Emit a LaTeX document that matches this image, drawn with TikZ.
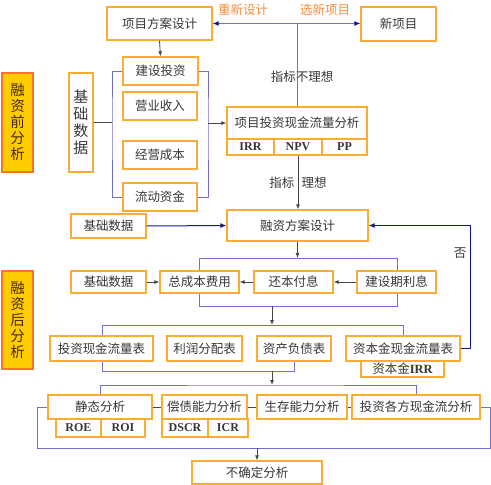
\documentclass[tikz,border=0pt]{standalone}
\usepackage{fontspec}
\setmainfont{Noto Sans CJK SC}
\newfontfamily\latinbf{Liberation Serif}
\usetikzlibrary{calc,backgrounds,arrows.meta}
\definecolor{bordorange}{RGB}{250,172,52}
\definecolor{texte}{RGB}{55,55,55}
\definecolor{jaune}{RGB}{255,204,0}
\definecolor{bordphase}{RGB}{255,112,40}
\definecolor{brunphase}{RGB}{70,40,10}
\definecolor{bleuclair}{RGB}{112,112,210}
\definecolor{bleufonce}{RGB}{20,20,150}
\definecolor{gris}{RGB}{70,70,70}
\definecolor{orangetexte}{RGB}{250,140,60}

\begin{document}
\begin{tikzpicture}[%
    x=1pt,y=-1pt,%
    boite/.style={draw=bordorange, line width=1.3pt, fill=white, text=texte,%
        inner sep=0pt, font=\fontsize{12.5}{14}\selectfont},%
    cellule/.style={boite, minimum height=16pt, font=\latinbf\bfseries\fontsize{12}{13}\selectfont},%
    phase/.style={draw=bordphase, fill=jaune, line width=1.3pt, text=brunphase,%
        inner sep=0pt, align=center, font=\fontsize{14.5}{16}\selectfont},%
    lien/.style={line width=0.8pt, draw=gris},%
    fleche/.style={lien, -{Latex[length=5pt,width=4pt]}},%
    crochet/.style={line width=1pt, draw=bleuclair},%
    retour/.style={line width=1pt, draw=bleufonce, -{Latex[length=6pt,width=5pt]}}%
    ]
    \useasboundingbox (0,0) rectangle (491,485);

    %
    % Définitions
    %
    \pgfmathsetmacro{\xcg}{112};%
    \pgfmathsetmacro{\xcd}{208};%
    \pgfmathsetmacro{\xm}{272};%
    \pgfmathsetmacro{\yba}{306};%
    \pgfmathsetmacro{\ybb}{325};%
    \pgfmathsetmacro{\ybc}{371};%
    \pgfmathsetmacro{\ybd}{385};%
    \pgfmathsetmacro{\ybe}{448};%

    \coordinate (crochetg) at (\xcg,122.5);
    \coordinate (crochetd) at (\xcd,123);
    \coordinate (cadreno) at (199,258);
    \coordinate (cadrese) at (397,\yba);
    \coordinate (sortie1) at (\xm,\yba);
    \coordinate (entree2) at (\xm,\ybb);
    \coordinate (sortie2) at (\xm,\ybc);
    \coordinate (entree3) at (\xm,\ybd);
    \coordinate (angle2) at (102,\ybc);
    \coordinate (angle3g) at (37,\ybe);
    \coordinate (angle3d) at (490,407);
    \coordinate (sortie3) at (257,\ybe);

    % Phases
    \node[phase, minimum width=31pt, minimum height=99pt] (avant) at (17.5,122.5) {融\\资\\前\\分\\析};
    \node[phase, minimum width=31pt, minimum height=98pt] (apres) at (17.5,320) {融\\资\\后\\分\\析};

    % Analyse avant financement
    \node[boite, minimum width=105pt, minimum height=33pt] (projet) at (159.5,23.5) {项目方案设计};
    \node[boite, minimum width=75pt, minimum height=34pt] (nouveau) at (398.5,24) {新项目};
    \node[boite, minimum width=75pt, minimum height=28pt] (invest) at (160.5,71) {建设投资};
    \node[boite, minimum width=74pt, minimum height=28pt] (recette) at (160,106) {营业收入};
    \node[boite, minimum width=74pt, minimum height=28pt] (charge) at (160,155) {经营成本};
    \node[boite, minimum width=74pt, minimum height=28pt] (fonds) at (160,197) {流动资金};
    \node[boite, minimum width=24pt, minimum height=99pt, align=center,%
        font=\fontsize{15}{17}\selectfont] (donnees1) at (81,122.5) {基\\础\\数\\据};
    \node[boite, minimum width=140pt, minimum height=32pt] (flux) at (297,123) {项目投资现金流量分析};
    \node[cellule, minimum width=47pt] (irr) at (250.5,147) {IRR};
    \node[cellule, minimum width=48pt] (npv) at (298,147) {NPV};
    \node[cellule, minimum width=45pt] (pp) at (344.5,147) {PP};

    % Analyse après financement
    \node[boite, minimum width=141pt, minimum height=31pt] (finance) at (297.5,225.5) {融资方案设计};
    \node[boite, minimum width=75pt, minimum height=24pt] (donnees2) at (108.5,226) {基础数据};
    \node[boite, minimum width=75pt, minimum height=22pt] (donnees3) at (108.5,282) {基础数据};
    \node[boite, minimum width=79pt, minimum height=22pt] (total) at (199.5,282) {总成本费用};
    \node[boite, minimum width=79pt, minimum height=22pt] (rembours) at (293.5,282) {还本付息};
    \node[boite, minimum width=79pt, minimum height=22pt] (interet) at (396.5,282) {建设期利息};

    \node[boite, minimum width=103pt, minimum height=25pt] (tabinv) at (101.5,348.5) {投资现金流量表};
    \node[boite, minimum width=75pt, minimum height=25pt] (profit) at (204.5,348.5) {利润分配表};
    \node[boite, minimum width=74pt, minimum height=25pt] (bilan) at (294,348.5) {资产负债表};
    \node[boite, minimum width=114pt, minimum height=25pt] (tabcap) at (403,348.5) {资本金现金流量表};
    \node[boite, minimum width=83pt, minimum height=16pt] (irrcap) at (402.5,369) {资本金{\latinbf\bfseries IRR}};

    \node[boite, minimum width=104pt, minimum height=24pt] (statique) at (100,407) {静态分析};
    \node[cellule, minimum width=45pt, minimum height=18pt] (roe) at (78.5,428) {ROE};
    \node[cellule, minimum width=44pt, minimum height=18pt] (roi) at (123,428) {ROI};
    \node[boite, minimum width=85pt, minimum height=24pt] (solva) at (204.5,407) {偿债能力分析};
    \node[cellule, minimum width=46pt, minimum height=18pt] (dscr) at (185,428) {DSCR};
    \node[cellule, minimum width=40pt, minimum height=18pt] (icr) at (228,428) {ICR};
    \node[boite, minimum width=90pt, minimum height=24pt] (survie) at (302,407) {生存能力分析};
    \node[boite, minimum width=128pt, minimum height=24pt] (parties) at (416,407) {投资各方现金流分析};
    \node[boite, minimum width=130pt, minimum height=23pt] (incert) at (257,472.5) {不确定分析};

    % Textes
    \node[text=orangetexte, font=\fontsize{12.5}{14}\selectfont] (refaire) at (243,10) {重新设计};
    \node[text=orangetexte, font=\fontsize{12.5}{14}\selectfont] (choisir) at (325,10) {选新项目};
    \node[text=texte, font=\fontsize{12.5}{14}\selectfont] (mauvais) at (302,77) {指标不理想};
    \node[text=texte, font=\fontsize{12.5}{14}\selectfont] (non) at (460,253) {否};

    % Liaisons
    \draw[crochet, {Latex[length=6pt,width=5pt,color=bleufonce]}-{Latex[length=6pt,width=5pt,color=bleufonce]}]%
        (projet.east) -- (projet.east -| nouveau.west);
    \draw[crochet] (flux.north) -- (flux.north |- projet.east);
    \draw[fleche] (projet.south) -- (invest.north);
    \draw[lien] (donnees1.east) -- (crochetg);
    \draw[crochet] (invest.west) -| (crochetg) |- (fonds.west);
    \draw[crochet] (invest.east) -| (crochetd) |- (fonds.east);
    \draw[fleche] (crochetd) -- (flux.west);
    \draw[fleche] (npv.south) -- (npv.south |- finance.north)%
        node[midway, left, text=texte, font=\fontsize{12.5}{14}\selectfont] {指标}%
        node[midway, right, text=texte, font=\fontsize{12.5}{14}\selectfont] {理想};

    \draw[retour] (donnees2.east) -- (finance.west);
    \draw[retour] (tabcap.east) -- ++(10,0) |- (finance.east);
    \draw[fleche] (finance.south) -- (finance.south |- cadreno);
    \draw[fleche] (donnees3.east) -- (total.west);
    \draw[fleche] (rembours.west) -- (total.east);
    \draw[fleche] (interet.west) -- (rembours.east);
    \draw[fleche] (sortie1) -- (entree2);
    \draw[fleche] (sortie2) -- (entree3);

    \draw[lien] (statique.east) -- (solva.west);
    \draw[lien] (solva.east) -- (survie.west);
    \draw[lien] (survie.east) -- (parties.west);
    \draw[fleche] (sortie3) -- (incert.north);

    \begin{scope}[on background layer]
        \draw[crochet] (cadreno) rectangle (cadrese);
        \draw[crochet] (bilan.south) |- (angle2) |- (tabcap.north |- entree2) -- (tabcap.north);
        \draw[crochet] (statique.north) |- (entree3) -| (parties.north);
        \draw[crochet] (statique.west) -| (angle3g) -| (angle3d) -- (parties.east);
    \end{scope}

\end{tikzpicture}
\end{document}
